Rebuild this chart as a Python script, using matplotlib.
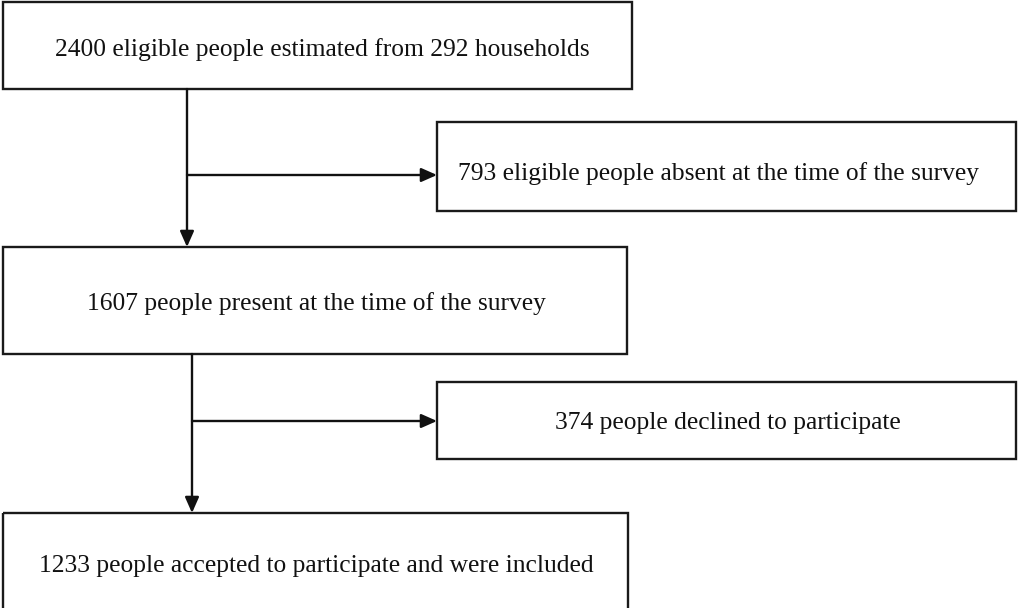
import matplotlib
matplotlib.use("Agg")
import matplotlib.pyplot as plt
from matplotlib.patches import Rectangle

# Flowchart content
main_labels = [
    "2400 eligible people estimated from 292 households",
    "1607 people present at the time of the survey",
    "1233 people accepted to participate and were included",
]
side_labels = [
    "793 eligible people absent at the time of the survey",
    "374 people declined to participate",
]

# Layout (pixel coordinates, y downward)
W, H = 1018, 608
main_boxes = [(3, 2, 629, 87), (3, 247, 624, 107), (3, 513, 625, 100)]
side_boxes = [(437, 122, 579, 89), (437, 382, 579, 77)]
main_text_xy = [(322.5, 49.5), (316.5, 304), (316.5, 566)]
side_text_xy = [(719, 174), (728, 423)]
stems_x = [187, 192]
branch_y = [175, 421]

fig = plt.figure(figsize=(W / 100, H / 100), dpi=100)
ax = fig.add_axes([0, 0, 1, 1])
ax.set_xlim(0, W)
ax.set_ylim(H, 0)
ax.axis("off")

font = dict(family="Liberation Serif", fontsize=18.35, color="#111111")
lw = 1.7
ec = "#1a1a1a"

for (x, y, w, h), lab, (tx, ty) in zip(main_boxes, main_labels, main_text_xy):
    ax.add_patch(Rectangle((x, y), w, h, fill=False, ec=ec, lw=lw))
    ax.text(tx, ty, lab, ha="center", va="center", **font)

for (x, y, w, h), lab, (tx, ty) in zip(side_boxes, side_labels, side_text_xy):
    ax.add_patch(Rectangle((x, y), w, h, fill=False, ec=ec, lw=lw))
    ax.text(tx, ty, lab, ha="center", va="center", **font)

arrow = dict(arrowstyle="-|>,head_length=0.95,head_width=0.42", color="#111111", lw=lw,
             shrinkA=0, shrinkB=0)
for i in range(2):
    top = main_boxes[i][1] + main_boxes[i][3]
    bottom = main_boxes[i + 1][1]
    sx = stems_x[i]
    ax.annotate("", xy=(sx, bottom), xytext=(sx, top), arrowprops=arrow)
    ax.annotate("", xy=(side_boxes[i][0], branch_y[i]), xytext=(sx, branch_y[i]),
                arrowprops=arrow)

fig.savefig("out.png", dpi=100, facecolor="white")
